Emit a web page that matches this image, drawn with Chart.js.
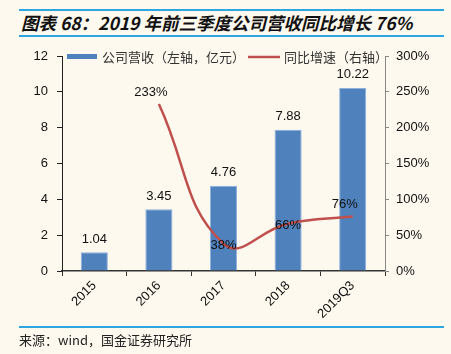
<!DOCTYPE html>
<html>
<head>
<meta charset="utf-8">
<script src="https://cdn.jsdelivr.net/npm/chart.js@4"></script>
<style>
  html, body { margin: 0; padding: 0; background: #fdf9ef; }
  #wrap { position: relative; width: 451px; height: 354px; overflow: hidden; }
  #chart { position: absolute; left: 0; top: 0; }
  .rule { position: absolute; left: 19px; width: 425px; height: 2px; background: #2ea6e2; }
  #title { position: absolute; left: 21px; top: 10px; font: italic bold 17.5px "Noto Sans CJK SC", sans-serif; color: #111; white-space: nowrap; }
  #source { position: absolute; left: 19px; top: 330px; font: 13px "Noto Sans CJK SC", sans-serif; color: #222; white-space: nowrap; }
</style>
</head>
<body>
<div id="wrap">
  <div class="rule" style="top:9px"></div>
  <div id="title">图表 68：2019 年前三季度公司营收同比增长 76%</div>
  <div class="rule" style="top:35px"></div>
  <canvas id="chart" width="451" height="354"></canvas>
  <div class="rule" style="top:326px"></div>
  <div id="source">来源：wind，国金证券研究所</div>
</div>
<script>
// -------------------------------
// DATA
// -------------------------------
const years = ["2015", "2016", "2017", "2018", "2019Q3"];
const revenue = [1.04, 3.45, 4.76, 7.88, 10.22];        // 亿元
const growth = [null, 233, 38, 66, 76];                  // %
const revenueLabel = "公司营收（左轴，亿元）";
const growthLabel = "同比增速（右轴）";
const growthLabelPlace = ["", "above", "center", "center", "above"];

const BAR = "#4f81bd";
const LINE = "#c0504d";

// -------------------------------
// LABELS + LEGEND PLUGIN
// -------------------------------
const drawExtras = {
    id: "drawExtras",
    afterDatasetsDraw(chart) {
        const ctx = chart.ctx;
        ctx.save();
        ctx.fillStyle = "#111";
        ctx.textAlign = "center";
        ctx.textBaseline = "middle";
        ctx.font = "13px 'Liberation Sans', Arial, sans-serif";

        // bar values
        chart.getDatasetMeta(0).data.forEach((bar, i) => {
            ctx.fillText(revenue[i].toFixed(2), bar.x, bar.y - 13);
        });

        // growth values
        chart.getDatasetMeta(1).data.forEach((pt, i) => {
            if (growth[i] == null) return;
            let dx = 0, dy = 2;
            if (growthLabelPlace[i] === "above") { dx = -8; dy = -12; }
            ctx.fillText(growth[i] + "%", pt.x + dx, pt.y + dy);
        });

        // legend
        const left = chart.chartArea.left;
        const top = chart.chartArea.top;
        ctx.textAlign = "left";
        ctx.font = "13px 'Noto Sans CJK SC', sans-serif";
        ctx.fillStyle = BAR;
        ctx.fillRect(left + 5, top - 2, 30, 5);
        ctx.fillStyle = "#333";
        ctx.fillText(revenueLabel, left + 40, top + 1);
        const lx = left + 186;
        ctx.strokeStyle = LINE;
        ctx.lineWidth = 2.5;
        ctx.beginPath();
        ctx.moveTo(lx, top + 1);
        ctx.lineTo(lx + 32, top + 1);
        ctx.stroke();
        ctx.fillText(growthLabel, lx + 36, top + 1);
        ctx.restore();
    }
};

// -------------------------------
// CHART
// -------------------------------
new Chart(document.getElementById("chart"), {
    type: "bar",
    data: {
        labels: years,
        datasets: [
            {
                type: "bar",
                label: revenueLabel,
                data: revenue,
                backgroundColor: BAR,
                borderColor: "#8fb0da",
                borderWidth: { left: 1, right: 1, top: 1, bottom: 0 },
                barPercentage: 0.42,
                categoryPercentage: 1,
                yAxisID: "y",
                order: 2
            },
            {
                type: "line",
                label: growthLabel,
                data: growth,
                borderColor: LINE,
                borderWidth: 2.5,
                pointRadius: 0,
                tension: 0.45,
                fill: false,
                yAxisID: "y1",
                order: 1
            }
        ]
    },
    options: {
        responsive: false,
        animation: false,
        layout: { padding: { top: 56, left: 0, right: 0, bottom: 0 } },
        plugins: { legend: { display: false }, tooltip: { enabled: false } },
        scales: {
            x: {
                afterFit: s => { s.height = 83; },
                border: { color: "#333", width: 1.5 },
                grid: { display: true, drawOnChartArea: false, tickLength: 5, color: "#333", offset: true },
                ticks: { color: "#111", font: { size: 13, family: "'Liberation Sans', Arial, sans-serif" },
                         minRotation: 45, maxRotation: 45, padding: 2 }
            },
            y: {
                position: "left",
                min: 0, max: 12,
                afterFit: s => { s.width = 62; },
                border: { color: "#222", width: 1 },
                grid: { drawOnChartArea: false, tickLength: 5, color: "#222" },
                ticks: { stepSize: 2, color: "#111", padding: 9,
                         font: { size: 13, family: "'Liberation Sans', Arial, sans-serif" } }
            },
            y1: {
                position: "right",
                min: 0, max: 300,
                afterFit: s => { s.width = 66; },
                border: { color: "#888", width: 1 },
                grid: { drawOnChartArea: false, tickLength: 4, color: "#888" },
                ticks: { stepSize: 50, color: "#111", padding: 7, callback: v => v + "%",
                         font: { size: 13, family: "'Liberation Sans', Arial, sans-serif" } }
            }
        }
    },
    plugins: [drawExtras]
});
</script>
</body>
</html>
